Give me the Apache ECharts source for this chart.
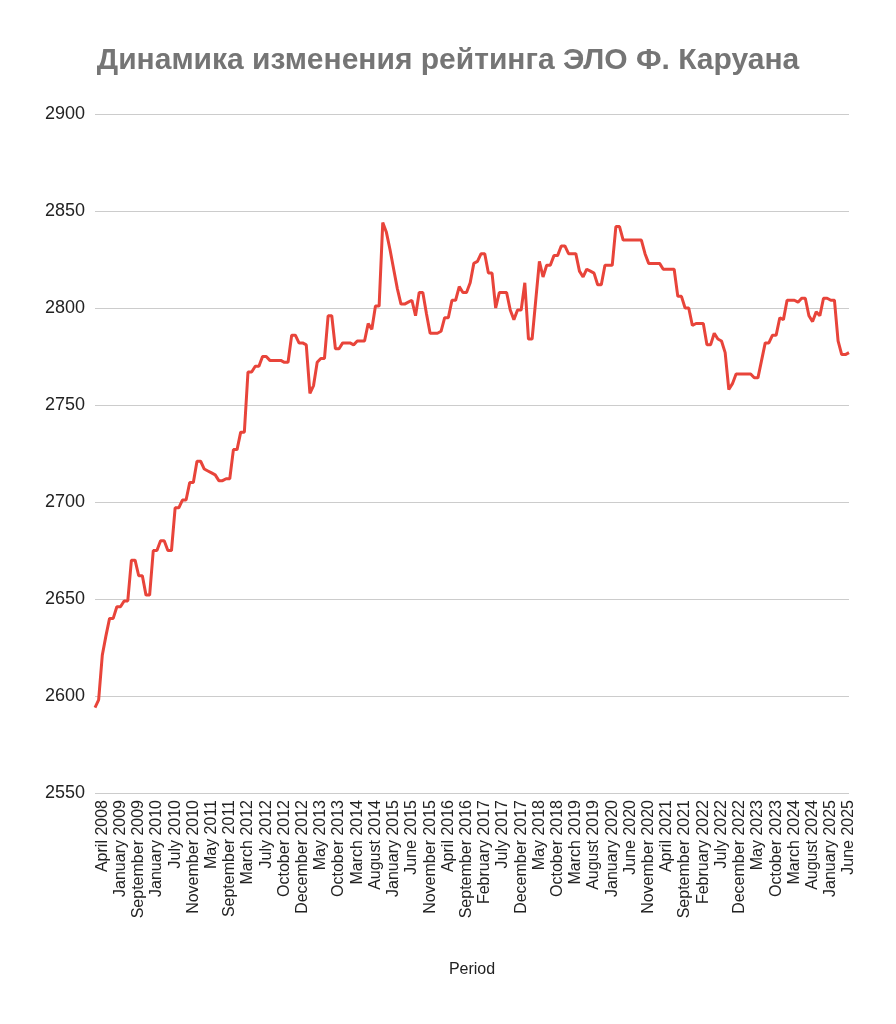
<!DOCTYPE html>
<html>
<head>
<meta charset="utf-8">
<title>Динамика изменения рейтинга ЭЛО Ф. Каруана</title>
<script src="https://cdn.jsdelivr.net/npm/echarts@6/dist/echarts.min.js"></script>
<style>
  html, body { margin: 0; padding: 0; background: #fff; }
  #chart { width: 896px; height: 1024px; }
</style>
</head>
<body>
<div id="chart"></div>
<script>
// Elo rating per period
const ratings = [
  2594, 2598, 2621, 2631, 2640, 2640, 2646, 2646, 2649, 2649,
  2670, 2670, 2662, 2662, 2652, 2652, 2675, 2675, 2680, 2680,
  2675, 2675, 2697, 2697, 2701, 2701, 2710, 2710, 2721, 2721,
  2717, 2716, 2715, 2714, 2711, 2711, 2712, 2712, 2727, 2727,
  2736, 2736, 2767, 2767, 2770, 2770, 2775, 2775, 2773, 2773,
  2773, 2773, 2772, 2772, 2786, 2786, 2782, 2782, 2781, 2756,
  2760, 2772, 2774, 2774, 2796, 2796, 2779, 2779, 2782, 2782,
  2782, 2781, 2783, 2783, 2783, 2792, 2789, 2801, 2801, 2844,
  2839, 2830, 2820, 2810, 2802, 2802, 2803, 2804, 2796, 2808,
  2808, 2797, 2787, 2787, 2787, 2788, 2795, 2795, 2804, 2804,
  2811, 2808, 2808, 2813, 2823, 2824, 2828, 2828, 2818, 2818,
  2800, 2808, 2808, 2808, 2799, 2794, 2799, 2799, 2813, 2784,
  2784, 2804, 2824, 2816, 2822, 2822, 2827, 2827, 2832, 2832,
  2828, 2828, 2828, 2819, 2816, 2820, 2819, 2818, 2812, 2812,
  2822, 2822, 2822, 2842, 2842, 2835, 2835, 2835, 2835, 2835,
  2835, 2828, 2823, 2823, 2823, 2823, 2820, 2820, 2820, 2820,
  2806, 2806, 2800, 2800, 2791, 2792, 2792, 2792, 2781, 2781,
  2787, 2784, 2783, 2777, 2758, 2761, 2766, 2766, 2766, 2766,
  2766, 2764, 2764, 2773, 2782, 2782, 2786, 2786, 2795, 2794,
  2804, 2804, 2804, 2803, 2805, 2805, 2796, 2793, 2798, 2796,
  2805, 2805, 2804, 2804, 2783, 2776, 2776, 2777
]

// visible period labels, one every 5 periods starting at period 2
const tickLabels = [
  'April 2008', 'January 2009', 'September 2009', 'January 2010', 'July 2010',
  'November 2010', 'May 2011', 'September 2011', 'March 2012', 'July 2012',
  'October 2012', 'December 2012', 'May 2013', 'October 2013', 'March 2014',
  'August 2014', 'January 2015', 'June 2015', 'November 2015', 'April 2016',
  'September 2016', 'February 2017', 'July 2017', 'December 2017', 'May 2018',
  'October 2018', 'March 2019', 'August 2019', 'January 2020', 'June 2020',
  'November 2020', 'April 2021', 'September 2021', 'February 2022', 'July 2022',
  'December 2022', 'May 2023', 'October 2023', 'March 2024', 'August 2024',
  'January 2025', 'June 2025'
]
const firstLabel = 2
const labelStep = 5

const yTicks = [2550, 2600, 2650, 2700, 2750, 2800, 2850, 2900]

let isLabeled = i => i >= firstLabel && (i - firstLabel) % labelStep === 0
let categories = ratings.map((v, i) => isLabeled(i) ? tickLabels[(i - firstLabel) / labelStep] : '')

let myChart = echarts.init(document.getElementById('chart'))
let option = {
  animation: false,
  backgroundColor: '#fff',
  textStyle: {fontFamily: 'Arial, "Liberation Sans", sans-serif'},
  title: {
    text: 'Динамика изменения рейтинга ЭЛО Ф. Каруана',
    left: 'center',
    top: 41,
    textStyle: {
      color: '#757575',
      fontSize: 30,
      fontWeight: 'bold',
      fontFamily: 'Arial, "Liberation Sans", sans-serif'
    }
  },
  grid: {
    left: 95,
    right: 47,
    top: 114,
    bottom: 231
  },
  xAxis: {
    type: 'category',
    data: categories,
    boundaryGap: false,
    name: 'Period',
    nameLocation: 'middle',
    nameGap: 169,
    nameTextStyle: {color: '#222', fontSize: 16},
    axisLine: {show: false},
    axisTick: {show: false},
    axisLabel: {
      rotate: 90,
      interval: (index) => isLabeled(index),
      color: '#222',
      fontSize: 16,
      margin: 7
    }
  },
  yAxis: {
    type: 'value',
    min: yTicks[0],
    max: yTicks[yTicks.length - 1],
    interval: 50,
    axisLine: {show: false},
    axisTick: {show: false},
    axisLabel: {color: '#222', fontSize: 18, margin: 10, formatter: v => String(v)},
    splitLine: {lineStyle: {color: '#cccccc', width: 1}}
  },
  series: [
    {
      name: 'ЭЛО',
      type: 'line',
      data: ratings,
      showSymbol: false,
      lineStyle: {color: '#e8443a', width: 3},
      itemStyle: {color: '#e8443a'}
    }
  ]
}
myChart.setOption(option)
</script>
</body>
</html>
